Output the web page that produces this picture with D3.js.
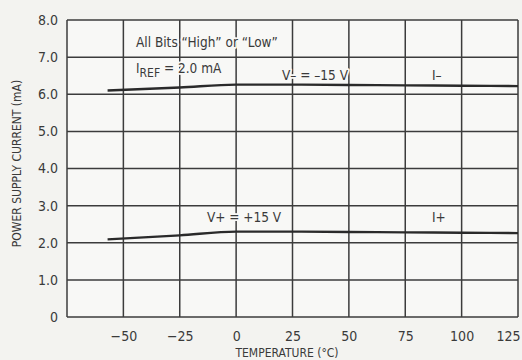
<!DOCTYPE html>
<html>
<head>
<meta charset="utf-8">
<script src="https://cdn.jsdelivr.net/npm/d3@7"></script>
<style>
  html, body { margin: 0; padding: 0; background: #f3f3f0; }
  svg { display: block; }
  text { font-family: "Liberation Sans Narrow", "DejaVu Sans Condensed", "Arial Narrow", sans-serif; fill: #3a3a3a; }
  .halo { paint-order: stroke; stroke: #f8f8f6; stroke-width: 3.5px; stroke-linejoin: round; }
</style>
</head>
<body>
<svg id="chart" width="522" height="360"></svg>
<script>
// Supply current vs. temperature, two supply rails
const temperatures = [-57, -25, 0, 25, 50, 75, 100, 125];
const iMinus = [6.10, 6.18, 6.26, 6.26, 6.25, 6.24, 6.23, 6.22];
const iPlus  = [2.09, 2.20, 2.30, 2.30, 2.29, 2.28, 2.27, 2.26];

const xTicks = [-50, -25, 0, 25, 50, 75, 100, 125];
const xGrid  = [-75, -50, -25, 0, 25, 50, 75, 100, 125];
const yTicks = [0, 1, 2, 3, 4, 5, 6, 7, 8];

const svg = d3.select("#chart");
const margin = { left: 67, right: 4, top: 20, bottom: 43 };
const W = 522, H = 360;

const x = d3.scaleLinear().domain([-75, 125]).range([margin.left, W - margin.right]);
const y = d3.scaleLinear().domain([0, 8]).range([H - margin.bottom, margin.top]);

// plot background
svg.append("rect")
  .attr("x", x(-75)).attr("y", y(8))
  .attr("width", x(125) - x(-75)).attr("height", y(0) - y(8))
  .attr("fill", "#f8f8f6");

// grid
const grid = svg.append("g").attr("stroke", "#3c3c3c").attr("stroke-width", 1.5);
grid.selectAll("line.v").data(xGrid).join("line")
  .attr("x1", d => x(d)).attr("x2", d => x(d))
  .attr("y1", y(0)).attr("y2", y(8));
grid.selectAll("line.h").data(yTicks).join("line")
  .attr("x1", x(-75)).attr("x2", x(125))
  .attr("y1", d => y(d)).attr("y2", d => y(d));

// axes (labels only, grid carries the lines)
const yAxis = d3.axisLeft(y).tickValues(yTicks)
  .tickFormat(d => d === 0 ? "0" : d3.format(".1f")(d)).tickSize(0).tickPadding(9);
svg.append("g").attr("transform", `translate(${x(-75)},0)`).call(yAxis)
  .call(g => g.select(".domain").remove())
  .selectAll("text").attr("font-size", 14).attr("fill", "#444");

const xAxis = d3.axisBottom(x).tickValues(xTicks)
  .tickFormat(d => d < 0 ? "\u2212" + Math.abs(d) : String(d)).tickSize(0).tickPadding(14);
svg.append("g").attr("transform", `translate(0,${y(0)})`).call(xAxis)
  .call(g => g.select(".domain").remove())
  .selectAll("text").attr("font-size", 14).attr("fill", "#444")
  .filter(d => d === 125).attr("text-anchor", "end").attr("dx", 2);

// axis titles
svg.append("text")
  .attr("transform", `translate(21,${(y(0) + y(8)) / 2 - 5}) rotate(-90)`)
  .attr("text-anchor", "middle").attr("font-size", 12)
  .attr("fill", "#505050")
  .text("POWER SUPPLY CURRENT (mA)");
svg.append("text")
  .attr("x", 287).attr("y", 357)
  .attr("text-anchor", "middle").attr("font-size", 12)
  .attr("fill", "#505050")
  .text("TEMPERATURE (\u00B0C)");

// curves
const line = d3.line().x((d, i) => x(temperatures[i])).y(d => y(d)).curve(d3.curveMonotoneX);
[iMinus, iPlus].forEach(series => {
  svg.append("path").datum(series)
    .attr("d", line).attr("fill", "none")
    .attr("stroke", "#2a2a2a").attr("stroke-width", 2.4);
});

// annotations, with a halo so grid lines break around the lettering
const ann = svg.append("g").attr("font-size", 13.5);
ann.append("text").attr("class", "halo").attr("x", 136).attr("y", 47)
  .text("All Bits \u201CHigh\u201D or \u201CLow\u201D");
const iref = ann.append("text").attr("class", "halo").attr("x", 136).attr("y", 73);
iref.append("tspan").text("I");
iref.append("tspan").attr("font-size", 12).attr("dy", 4).text("REF");
iref.append("tspan").attr("dy", -4).text(" = 2.0 mA");
ann.append("text").attr("class", "halo").attr("x", 282).attr("y", 80).text("V\u2013 = \u201315 V");
ann.append("text").attr("class", "halo").attr("x", 432).attr("y", 80).text("I\u2013");
ann.append("text").attr("class", "halo").attr("x", 207).attr("y", 222).text("V+ = +15 V");
ann.append("text").attr("class", "halo").attr("x", 432).attr("y", 222).text("I+");
</script>
</body>
</html>
